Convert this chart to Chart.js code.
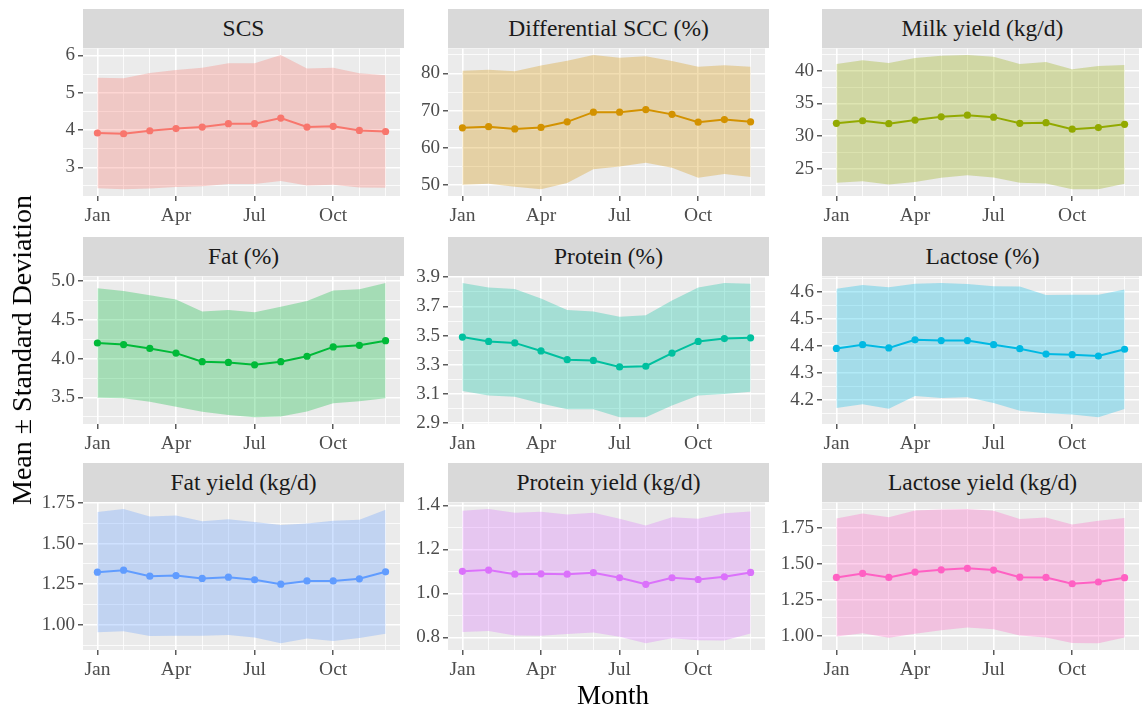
<!DOCTYPE html>
<html>
<head>
<meta charset="utf-8">
<script src="https://cdn.jsdelivr.net/npm/chart.js@4.4.1/dist/chart.umd.min.js"></script>
<style>
  html, body { margin: 0; padding: 0; background: #fff; overflow: hidden; }
  body { width: 1142px; height: 708px; position: relative; font-family: "Liberation Serif", serif; }
  .strip { position: absolute; height: 39px; background: #D9D9D9; color: #1A1A1A; font-size: 23.5px; line-height: 39px; text-align: center; white-space: nowrap; overflow: hidden; }
  .panel { position: absolute; }
  .axis-title { position: absolute; color: #000; white-space: nowrap; line-height: 34px; }
  #xtitle { left: 613px; top: 678px; font-size: 27px; transform: translateX(-50%); }
  #ytitle { left: 22px; top: 350px; font-size: 28px; transform: translate(-50%, -50%) rotate(-90deg); }
</style>
</head>
<body>
<div id="fig"></div>
<div class="axis-title" id="xtitle">Month</div>
<div class="axis-title" id="ytitle">Mean ± Standard Deviation</div>
<script>
const months = ["Jan", "Feb", "Mar", "Apr", "May", "Jun", "Jul", "Aug", "Sep", "Oct", "Nov", "Dec"];
const xTickLabels = ["Jan", "Apr", "Jul", "Oct"];

const traits = [
  "SCS", "Differential SCC (%)", "Milk yield (kg/d)",
  "Fat (%)", "Protein (%)", "Lactose (%)",
  "Fat yield (kg/d)", "Protein yield (kg/d)", "Lactose yield (kg/d)"
];

// monthly means and standard deviations
const scsMean = [3.92, 3.90, 3.98, 4.04, 4.08, 4.17, 4.17, 4.32, 4.08, 4.10, 3.99, 3.96];
const scsSd = [1.48, 1.49, 1.55, 1.57, 1.59, 1.62, 1.62, 1.69, 1.57, 1.57, 1.53, 1.51];
const scsTicks = ["3", "4", "5", "6"];

const diffMean = [65.4, 65.7, 65.1, 65.5, 67.0, 69.6, 69.6, 70.3, 69.0, 66.9, 67.6, 67.0];
const diffSd = [15.3, 15.3, 15.5, 16.6, 16.4, 15.3, 14.6, 14.3, 14.3, 14.9, 14.6, 14.8];
const diffTicks = ["50", "60", "70", "80"];

const milkMean = [31.95, 32.35, 31.9, 32.45, 32.95, 33.2, 32.9, 31.95, 32.05, 31.05, 31.3, 31.8];
const milkSd = [9.1, 9.25, 9.3, 9.5, 9.35, 9.2, 9.25, 9.1, 9.3, 9.2, 9.45, 9.1];
const milkTicks = ["25", "30", "35", "40"];

const fatMean = [4.20, 4.18, 4.13, 4.07, 3.96, 3.95, 3.92, 3.96, 4.03, 4.15, 4.17, 4.23];
const fatSd = [0.705, 0.69, 0.685, 0.69, 0.645, 0.675, 0.675, 0.705, 0.71, 0.725, 0.72, 0.74];
const fatTicks = ["3.5", "4.0", "4.5", "5.0"];

const proteinMean = [3.49, 3.46, 3.45, 3.395, 3.335, 3.33, 3.285, 3.29, 3.38, 3.46, 3.48, 3.485];
const proteinSd = [0.37, 0.37, 0.37, 0.36, 0.34, 0.335, 0.345, 0.35, 0.36, 0.37, 0.38, 0.37];
const proteinTicks = ["2.9", "3.1", "3.3", "3.5", "3.7", "3.9"];

const lactoseMean = [4.391, 4.405, 4.393, 4.423, 4.42, 4.42, 4.405, 4.39, 4.37, 4.368, 4.363, 4.388];
const lactoseSd = [0.221, 0.221, 0.225, 0.208, 0.213, 0.21, 0.216, 0.23, 0.219, 0.222, 0.227, 0.221];
const lactoseTicks = ["4.2", "4.3", "4.4", "4.5", "4.6"];

const fatYieldMean = [1.324, 1.336, 1.299, 1.303, 1.285, 1.293, 1.277, 1.25, 1.27, 1.27, 1.283, 1.326];
const fatYieldSd = [0.37, 0.376, 0.368, 0.37, 0.353, 0.356, 0.355, 0.364, 0.354, 0.37, 0.364, 0.382];
const fatYieldTicks = ["1.00", "1.25", "1.50", "1.75"];

const proteinYieldMean = [1.10, 1.106, 1.087, 1.089, 1.087, 1.094, 1.071, 1.041, 1.071, 1.063, 1.075, 1.095];
const proteinYieldSd = [0.276, 0.277, 0.279, 0.282, 0.272, 0.272, 0.268, 0.268, 0.275, 0.276, 0.289, 0.277];
const proteinYieldTicks = ["0.8", "1.0", "1.2", "1.4"];

const lactoseYieldMean = [1.405, 1.433, 1.405, 1.442, 1.458, 1.468, 1.456, 1.407, 1.405, 1.361, 1.373, 1.403];
const lactoseYieldSd = [0.41, 0.417, 0.419, 0.429, 0.42, 0.412, 0.412, 0.405, 0.417, 0.412, 0.426, 0.415];
const lactoseYieldTicks = ["1.00", "1.25", "1.50", "1.75"];

const colors = ["#F8766D", "#D39200", "#93AA00", "#00BA38", "#00C19F", "#00B9E3", "#619CFF", "#DB72FB", "#FF61C3"];

const panels = [
  { mean: scsMean, sd: scsSd, ticks: scsTicks },
  { mean: diffMean, sd: diffSd, ticks: diffTicks },
  { mean: milkMean, sd: milkSd, ticks: milkTicks },
  { mean: fatMean, sd: fatSd, ticks: fatTicks },
  { mean: proteinMean, sd: proteinSd, ticks: proteinTicks },
  { mean: lactoseMean, sd: lactoseSd, ticks: lactoseTicks },
  { mean: fatYieldMean, sd: fatYieldSd, ticks: fatYieldTicks },
  { mean: proteinYieldMean, sd: proteinYieldSd, ticks: proteinYieldTicks },
  { mean: lactoseYieldMean, sd: lactoseYieldSd, ticks: lactoseYieldTicks },
];

// facet grid geometry
const colLeft = [83, 448, 822];
const panelW = 321;
const stripTop = [9, 237, 463];
const stripH = 39;
const panelH = 148;
const yAxisW = 60;
const xAxisH = 34;
const padTop = 14;

const panelBg = {
  id: "panelBg",
  beforeDraw(chart) {
    const { ctx, chartArea: a } = chart;
    ctx.save();
    ctx.fillStyle = "#EBEBEB";
    ctx.fillRect(a.left, a.top, a.right - a.left, a.bottom - a.top);
    ctx.restore();
  }
};

function rgba(hex, alpha) {
  const n = parseInt(hex.slice(1), 16);
  return `rgba(${(n >> 16) & 255},${(n >> 8) & 255},${n & 255},${alpha})`;
}

const fig = document.getElementById("fig");

panels.forEach((p, i) => {
  const col = i % 3, row = Math.floor(i / 3);
  const left = colLeft[col];
  const top = stripTop[row];

  const strip = document.createElement("div");
  strip.className = "strip";
  strip.style.left = left + "px";
  strip.style.top = top + "px";
  strip.style.width = panelW + "px";
  strip.textContent = traits[i];
  fig.appendChild(strip);

  const canvas = document.createElement("canvas");
  canvas.className = "panel";
  canvas.width = panelW + yAxisW;
  canvas.height = panelH + padTop + xAxisH;
  canvas.style.left = (left - yAxisW) + "px";
  canvas.style.top = (top + stripH - padTop) + "px";
  fig.appendChild(canvas);

  const upper = p.mean.map((m, k) => ({ x: k + 1, y: m + p.sd[k] }));
  const lower = p.mean.map((m, k) => ({ x: k + 1, y: m - p.sd[k] }));
  const line = p.mean.map((m, k) => ({ x: k + 1, y: m }));

  const hi = Math.max(...upper.map(d => d.y));
  const lo = Math.min(...lower.map(d => d.y));
  const pad = (hi - lo) * 0.05;
  const yMin = lo - pad, yMax = hi + pad;

  const majors = p.ticks.map(Number);
  const half = (majors[1] - majors[0]) / 2;
  const yTicks = [];
  for (let k = -4; k <= majors.length * 2 + 4; k++) {
    const v = +(majors[0] + k * half).toFixed(6);
    if (v >= yMin && v <= yMax) yTicks.push(v);
  }
  const isMajorY = v => majors.some(m => Math.abs(m - v) < 1e-6);
  const majorLabel = v => p.ticks[majors.findIndex(m => Math.abs(m - v) < 1e-6)];
  const isMajorX = v => xTickLabels.includes(months[v - 1]);

  new Chart(canvas, {
    type: "line",
    data: {
      datasets: [
        { data: upper, fill: "+1", backgroundColor: rgba(colors[i], 0.3), borderWidth: 0, pointRadius: 0 },
        { data: lower, fill: false, borderWidth: 0, pointRadius: 0 },
        { data: line, fill: false, borderColor: colors[i], borderWidth: 2, pointRadius: 3.6,
          pointBackgroundColor: colors[i], pointBorderWidth: 0, tension: 0 }
      ]
    },
    options: {
      responsive: false,
      animation: false,
      events: [],
      layout: { padding: { top: padTop, left: 0, right: 0, bottom: 0 } },
      plugins: { legend: { display: false }, tooltip: { enabled: false } },
      scales: {
        x: {
          type: "linear",
          min: 0.45,
          max: 12.55,
          afterBuildTicks: axis => { axis.ticks = months.map((m, k) => ({ value: k + 1 })); },
          afterFit: axis => { axis.height = xAxisH; },
          border: { display: false },
          grid: {
            color: "#FFFFFF",
            lineWidth: ctx => isMajorX(ctx.tick.value) ? 1.6 : 0.8,
            tickColor: ctx => isMajorX(ctx.tick.value) ? "#333333" : "rgba(0,0,0,0)",
            tickLength: 5,
            tickWidth: 1.2
          },
          ticks: {
            autoSkip: false,
            maxRotation: 0,
            padding: 3,
            color: "#4D4D4D",
            font: { family: "Liberation Serif", size: 19.5 },
            callback: v => isMajorX(v) ? months[v - 1] : ""
          }
        },
        y: {
          min: yMin,
          max: yMax,
          afterBuildTicks: axis => { axis.ticks = yTicks.map(v => ({ value: v })); },
          afterFit: axis => { axis.width = yAxisW; },
          border: { display: false },
          grid: {
            color: "#FFFFFF",
            lineWidth: ctx => isMajorY(ctx.tick.value) ? 1.6 : 0.8,
            tickColor: ctx => isMajorY(ctx.tick.value) ? "#333333" : "rgba(0,0,0,0)",
            tickLength: 5,
            tickWidth: 1.2
          },
          ticks: {
            autoSkip: false,
            padding: 3,
            color: "#4D4D4D",
            font: { family: "Liberation Serif", size: 19 },
            callback: v => isMajorY(v) ? majorLabel(v) : ""
          }
        }
      }
    },
    plugins: [panelBg]
  });
});
</script>
</body>
</html>
